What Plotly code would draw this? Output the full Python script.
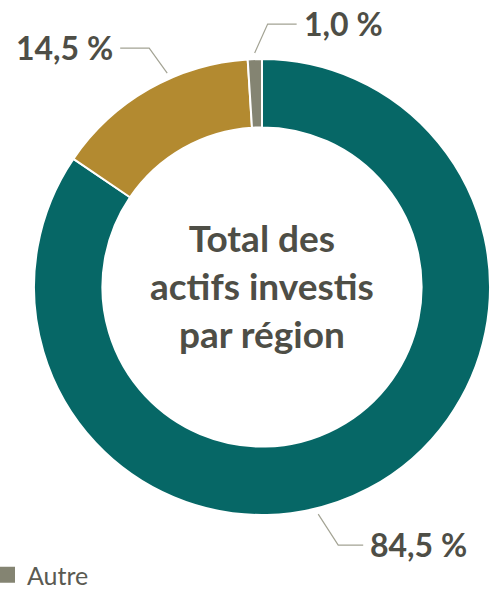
import math
import plotly.graph_objects as go

W, H = 490, 589

# ---- data ----
regions = ["Canada", "États-Unis", "Autre"]
shares = [84.5, 14.5, 1.0]
share_labels = ["84,5 %", "14,5 %", "1,0 %"]
center_title = ["Total des", "actifs investis", "par région"]
legend_items = ["Autre"]

# ---- style ----
colors = ["#066766", "#b38a30", "#848472"]
text_color = "#4e4e46"
line_color = "#a3a394"
FONT = "Lato, 'Source Sans Pro', sans-serif"

CX, CY, R = 262, 287, 228          # donut centre / radius in page px
HOLE = 0.70

angle_shift = [14.0, 5.8, 0.0]      # connector angle offsets (deg)
elbow = [(20, 31), (-18, -25), (13, -29)]
arm = [25, -29, 29]
gap = 5


def px(x):
    return x / W


def py(y):
    return 1 - y / H


fig = go.Figure()
fig.add_trace(go.Pie(
    labels=regions, values=shares, sort=False, direction="clockwise",
    rotation=0, hole=HOLE, textinfo="none",
    marker=dict(colors=colors, line=dict(color="white", width=2)),
    domain=dict(x=[px(CX - R), px(CX + R)], y=[py(CY + R), py(CY - R)]),
    showlegend=False, hoverinfo="label+percent",
))

# legend entry (only "Autre" visible)
for name in legend_items:
    fig.add_trace(go.Scatter(
        x=[None], y=[None], mode="markers", name=name,
        marker=dict(symbol="square", size=16, color=colors[regions.index(name)]),
        showlegend=True,
    ))

shapes = []
annotations = []
total = sum(shares)
cum = 0.0
for i, v in enumerate(shares):
    mid = (cum + v / 2) / total * 360 + angle_shift[i]
    cum += v
    a = math.radians(mid)
    x0 = CX + (R + 6) * math.sin(a)
    y0 = CY - (R + 6) * math.cos(a)
    x1 = x0 + elbow[i][0]
    y1 = y0 + elbow[i][1]
    x2 = x1 + arm[i]
    shapes.append(dict(
        type="path", xref="paper", yref="paper",
        path=f"M {px(x0)},{py(y0)} L {px(x1)},{py(y1)} L {px(x2)},{py(y1)}",
        line=dict(color=line_color, width=1.2),
    ))
    right = arm[i] > 0
    annotations.append(dict(
        xref="paper", yref="paper",
        x=px(x2 + (gap if right else -gap)), y=py(y1 - 1),
        xanchor="left" if right else "right", yanchor="middle",
        text=share_labels[i], showarrow=False,
        font=dict(family=FONT, size=32, color=text_color, weight="bold"),
    ))

annotations.append(dict(
    xref="paper", yref="paper", x=px(CX), y=py(CY - 2),
    xanchor="center", yanchor="middle",
    text="<br>".join(center_title), showarrow=False,
    font=dict(family=FONT, size=37, color=text_color, weight="bold"),
))

fig.update_layout(
    width=W, height=H,
    margin=dict(l=0, r=0, t=0, b=0, autoexpand=False),
    paper_bgcolor="white", plot_bgcolor="white",
    xaxis=dict(visible=False), yaxis=dict(visible=False),
    shapes=shapes, annotations=annotations,
    showlegend=True,
    legend=dict(x=px(-13), y=py(575), xanchor="left", yanchor="middle",
                orientation="h", bgcolor="rgba(0,0,0,0)",
                font=dict(family=FONT, size=25, color="#5a5a52")),
)

fig.write_html(
    "out.html",
    config={"displayModeBar": False},
    post_script="document.body.style.margin='0';document.body.style.overflow='hidden';",
)
